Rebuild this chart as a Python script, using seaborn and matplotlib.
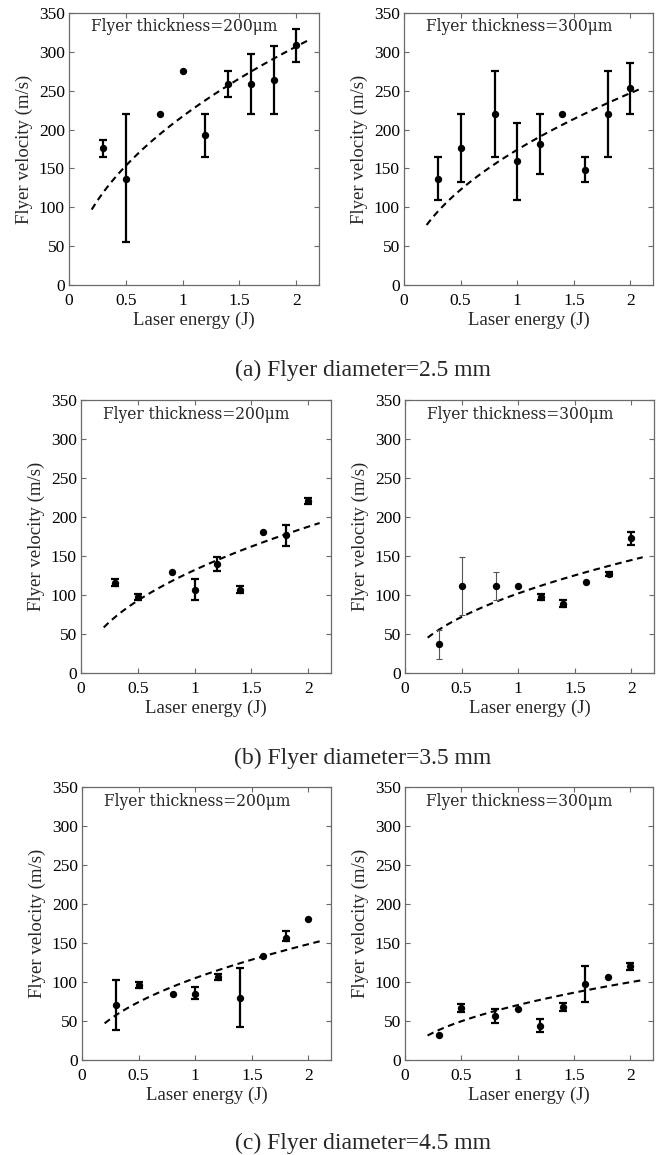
import numpy as np
import pandas as pd
import matplotlib
matplotlib.use("Agg")
import matplotlib.pyplot as plt
import seaborn as sns

# ---------------- data ----------------
energy = [0.3, 0.5, 0.8, 1.0, 1.2, 1.4, 1.6, 1.8, 2.0]

v_25_200 = [176, 137, 220, 275, 193, 259, 259, 264, 309]
lo_25_200 = [165, 55, None, None, 165, 242, 220, 220, 287]
hi_25_200 = [187, 220, None, None, 220, 275, 297, 308, 330]

v_25_300 = [137, 176, 220, 160, 181, 220, 148, 220, 253]
lo_25_300 = [110, 132, 165, 110, 143, None, 132, 165, 220]
hi_25_300 = [165, 220, 275, 209, 220, None, 165, 275, 286]

v_35_200 = [116, 97, 130, 107, 140, 107, 181, 177, 221]
lo_35_200 = [111, 93, None, 93, 131, 103, None, 163, 217]
hi_35_200 = [121, 101, None, 121, 149, 111, None, 190, 225]

v_35_300 = [37, 111, 111, 111, 97, 89, 117, 127, 173]
lo_35_300 = [18, 74, 93, None, 93, 85, None, 124, 164]
hi_35_300 = [55, 149, 130, None, 101, 93, None, 130, 181]

v_45_200 = [70, 96, 84, 84, 106, 80, 133, 157, 181]
lo_45_200 = [38, 92, None, 78, 102, 42, None, 152, None]
hi_45_200 = [102, 100, None, 93, 110, 118, None, 165, None]

v_45_300 = [32, 67, 57, 65, 44, 68, 98, 106, 120]
lo_45_300 = [None, 62, 47, None, 36, 63, 75, None, 116]
hi_45_300 = [None, 72, 66, None, 52, 73, 120, None, 124]

# fitted curves v = a * E^b (coefficients)
fit_a = [217, 174, 132, 102, 105, 70.4]
fit_b = [0.50, 0.505, 0.507, 0.505, 0.50, 0.503]
fit_range = (0.2, 2.1)

thickness_labels = ["Flyer thickness=200\u03bcm", "Flyer thickness=300\u03bcm"]
captions = ["(a) Flyer diameter=2.5 mm", "(b) Flyer diameter=3.5 mm",
            "(c) Flyer diameter=4.5 mm"]
xticks = [0, 0.5, 1, 1.5, 2]
xtick_labels = ["0", "0.5", "1", "1.5", "2"]
yticks = [0, 50, 100, 150, 200, 250, 300, 350]

panels = [
    (v_25_200, lo_25_200, hi_25_200),
    (v_25_300, lo_25_300, hi_25_300),
    (v_35_200, lo_35_200, hi_35_200),
    (v_35_300, lo_35_300, hi_35_300),
    (v_45_200, lo_45_200, hi_45_200),
    (v_45_300, lo_45_300, hi_45_300),
]
thin_bar_panel = 3
thin_bar_energies = [0.3, 0.5, 0.8]

# ---------------- style ----------------
sns.set_theme(style="ticks")
plt.rcParams["font.family"] = ["Liberation Serif", "DejaVu Serif"]
plt.rcParams["mathtext.fontset"] = "stix"

fig = plt.figure(figsize=(6.61, 11.55), dpi=100)

W = 1155.0
FW = 661.0
rect_px = [  # left, top, right, bottom in pixels
    (69, 13, 319, 285), (404, 13, 653, 285),
    (81, 400, 331, 673), (405, 400, 654, 673),
    (82, 787, 331, 1060), (405, 787, 653, 1060),
]

spine_col = "#6a6a6a"
for i, ((v, lo, hi), (l, t, r, b)) in enumerate(zip(panels, rect_px)):
    ax = fig.add_axes([l / FW, 1 - b / W, (r - l) / FW, (b - t) / W])
    df = pd.DataFrame({"E": energy, "v": v, "lo": lo, "hi": hi})
    df["lo"] = pd.to_numeric(df["lo"])
    df["hi"] = pd.to_numeric(df["hi"])

    # fitted dashed curve
    fx = np.linspace(fit_range[0], fit_range[1], 100)
    fdf = pd.DataFrame({"E": fx, "v": fit_a[i] * fx ** fit_b[i]})
    sns.lineplot(data=fdf, x="E", y="v", ax=ax, color="black",
                 linewidth=1.5, linestyle=(0, (3.2, 2.2)), zorder=2)

    # error bars
    eb = df.dropna(subset=["lo"])
    for _, row in eb.iterrows():
        thin = (i == thin_bar_panel and row["E"] in thin_bar_energies)
        ax.errorbar(row["E"], row["v"],
                    yerr=[[row["v"] - row["lo"]], [row["hi"] - row["v"]]],
                    fmt="none", ecolor="#555555" if thin else "black",
                    elinewidth=0.8 if thin else 1.6,
                    capsize=2.2 if thin else 2.6,
                    capthick=0.8 if thin else 1.6, zorder=3)

    sns.scatterplot(data=df, x="E", y="v", ax=ax, color="black", s=28,
                    edgecolor="black", linewidth=0, zorder=4)

    ax.set_xlim(0, 2.2)
    ax.set_ylim(0, 350)
    ax.set_xticks(xticks)
    ax.set_xticklabels(xtick_labels)
    ax.set_yticks(yticks)
    ax.tick_params(direction="in", top=True, right=True, length=3.5,
                   width=0.8, color=spine_col, labelsize=12.5,
                   labelcolor="black")
    ax.tick_params(axis="x", pad=6)
    ax.tick_params(axis="y", pad=3)
    for s in ax.spines.values():
        s.set_color(spine_col)
        s.set_linewidth(0.9)
    ax.set_xlabel("Laser energy (J)", fontsize=13.5, labelpad=2)
    ax.set_ylabel("Flyer velocity (m/s)", fontsize=13.5, labelpad=4)
    ax.text(0.19, 332, thickness_labels[i % 2], fontsize=11.2,
            family=["DejaVu Serif"], ha="left", va="center")

cap_y = [370, 758, 1143]
for c, yy in zip(captions, cap_y):
    fig.text(363 / FW, 1 - yy / W, c, fontsize=17, ha="center", va="center")

fig.savefig("out.png", dpi=100)
